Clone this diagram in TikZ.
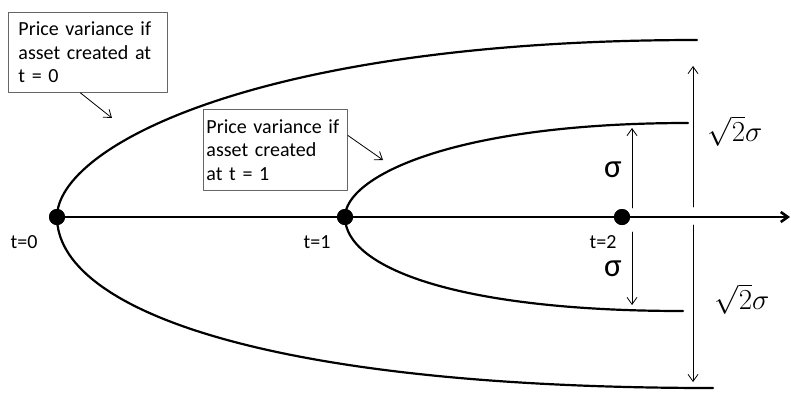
\documentclass[tikz,border=0pt]{standalone}
\usepackage{fontspec}
\setmainfont{Carlito}
\usepackage{tikz}
\usetikzlibrary{arrows.meta}

\begin{document}
\begin{tikzpicture}[x=1pt, y=-1pt, line cap=round, line join=round, >={Straight Barb[length=7pt,width=10pt]},
  every node/.style={font=\fontsize{20}{23.5}\selectfont},
  tdot/.style={circle, fill=black, inner sep=0pt, minimum size=16pt},
  notebox/.style={draw=black!60, fill=white, line width=0.9pt, align=left, inner ysep=4pt, anchor=north west},
  spread/.style={line width=2.2pt},
  gap/.style={->, line width=0.8pt}]
  \useasboundingbox (0,0) rectangle (791,392);

  % Time axis and the three creation dates.
  \coordinate (axisend) at (790,217);
  \node[tdot] (t0) at (57,217) {};
  \node[tdot] (t1) at (345,217) {};
  \node[tdot] (t2) at (622,217) {};

  % Spread of the price if created at t=0.
  \draw[spread] (t0.center) .. controls (57,147) and (257,40) .. (697,40);
  \draw[spread] (t0.center) .. controls (57,307) and (257,388) .. (713,388);

  % Spread of the price if created at t=1.
  \draw[spread] (t1.center) .. controls (345,177) and (452,123) .. (688,123);
  \draw[spread] (t1.center) .. controls (345,267) and (455,311) .. (683,311);

  % Axis drawn over the curves, dots on top.
  \draw[->, line width=2.6pt] (t0.center) -- (axisend);
  \node[tdot] at (t0) {};
  \node[tdot] at (t1) {};
  \node[tdot] at (t2) {};
  \node (l0) at (24,242) {t=0};
  \node (l1) at (317,242) {t=1};
  \node (l2) at (603,242) {t=2};

  % One-period spread (sigma).
  \coordinate (su0) at (632,208);
  \coordinate (su1) at (632,128);
  \coordinate (sd0) at (632,232);
  \coordinate (sd1) at (632,305);
  \draw[gap] (su0) -- (su1);
  \draw[gap] (sd0) -- (sd1);
  \node[font=\fontsize{33}{36}\selectfont] (sigup) at (613,170) {σ};
  \node[font=\fontsize{33}{36}\selectfont] (sigdn) at (613,269) {σ};

  % Two-period spread (sqrt 2 sigma).
  \coordinate (ru0) at (693,207);
  \coordinate (ru1) at (693,66);
  \coordinate (rd0) at (693,225);
  \coordinate (rd1) at (693,382);
  \draw[gap] (ru0) -- (ru1);
  \draw[gap] (rd0) -- (rd1);
  \node (rootup) at (735,131) {\scalebox{1.4}{$\sqrt{2}\sigma$}};
  \node (rootdn) at (742,299) {\scalebox{1.4}{$\sqrt{2}\sigma$}};

  % Call-out boxes.
  \node[notebox, text width=139pt, inner xsep=10pt, minimum height=80pt] (box0) at (8,12)
    {Price variance if\\asset created at\\t = 0};
  \node[notebox, text width=138pt, inner xsep=3pt, minimum height=81pt] (box1) at (203,109)
    {Price variance if\\asset created\\at t = 1};
  \coordinate (tip0) at (112,118);
  \coordinate (tip1) at (383,160);
  \draw[gap] ([xshift=-7.5pt]box0.south) -- (tip0);
  \draw[gap] ([yshift=14.5pt]box1.east) -- (tip1);
\end{tikzpicture}
\end{document}
